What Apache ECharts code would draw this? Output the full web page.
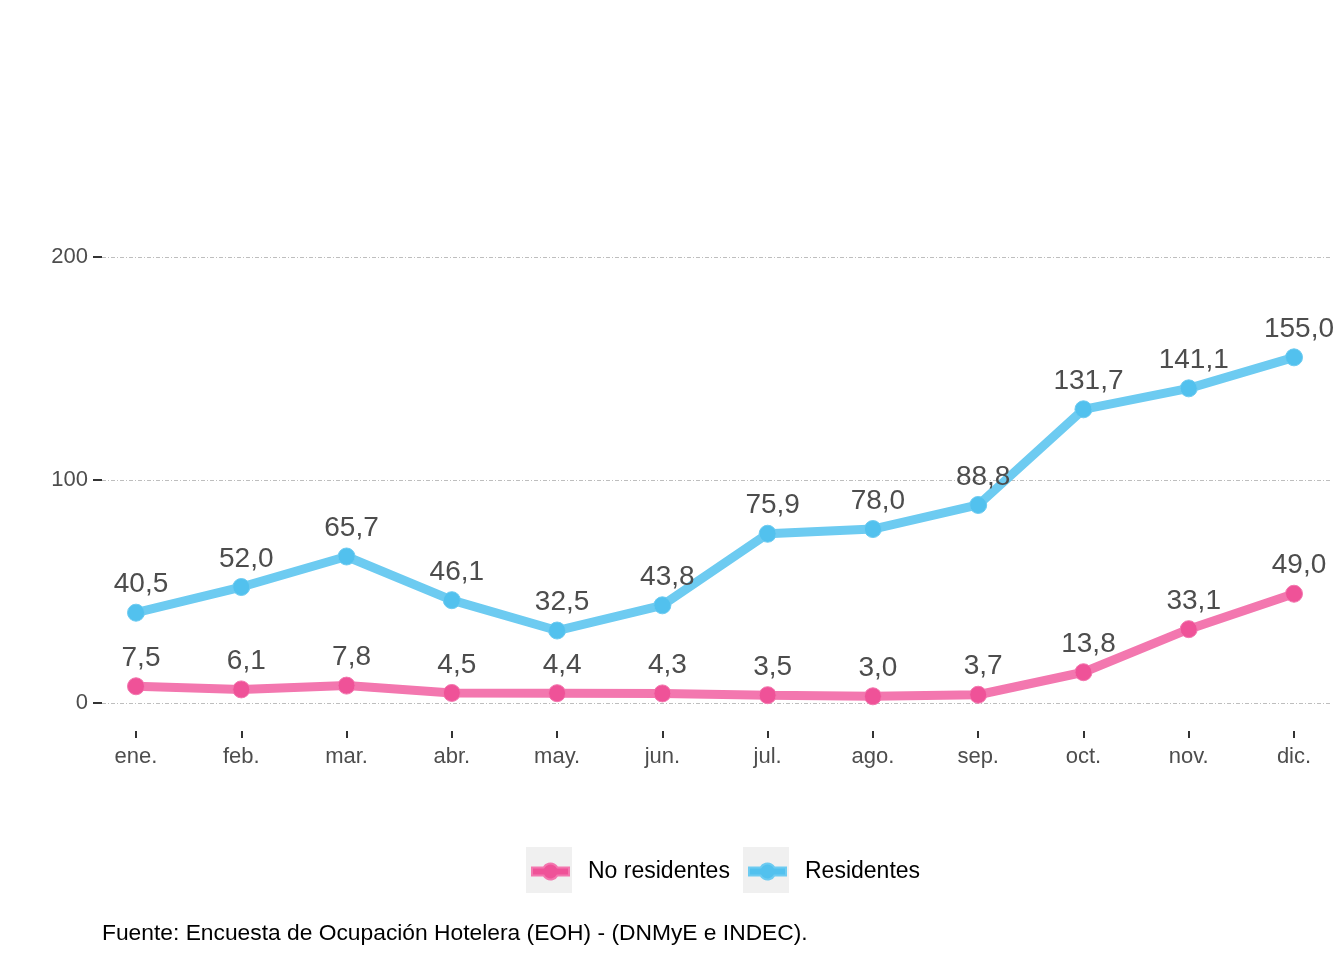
<!DOCTYPE html>
<html>
<head>
<meta charset="utf-8">
<script src="https://cdn.jsdelivr.net/npm/echarts@6/dist/echarts.min.js"></script>
<style>html,body{margin:0;padding:0;background:#fff}#c{width:1344px;height:960px}</style>
</head>
<body>
<div id="c"></div>
<script>
const months = ['ene.','feb.','mar.','abr.','may.','jun.','jul.','ago.','sep.','oct.','nov.','dic.'];
const noResidentes = [7.5, 6.1, 7.8, 4.5, 4.4, 4.3, 3.5, 3.0, 3.7, 13.8, 33.1, 49.0];
const residentes = [40.5, 52.0, 65.7, 46.1, 32.5, 43.8, 75.9, 78.0, 88.8, 131.7, 141.1, 155.0];
const yTicks = [0, 100, 200];
const seriesNames = ['No residentes', 'Residentes'];
const caption = 'Fuente: Encuesta de Ocupación Hotelera (EOH) - (DNMyE e INDEC).';

const FONT = '"Liberation Sans", Arial, sans-serif';
const fmt = v => v.toFixed(1).replace('.', ',');
const iconPath = 'path://M0,4 L11.57,4 A8,8 0 0,1 25.43,4 L37,4 L37,12 L25.43,12 A8,8 0 0,1 11.57,12 L0,12 Z';
const legendColors = ['#ef5298', '#52c1ee'];

const chart = echarts.init(document.getElementById('c'), null, {renderer: 'canvas'});
const labelCfg = {
  show: true, position: 'top', distance: 5, offset: [5, 0],
  fontFamily: FONT, fontSize: 28, color: '#4d4d4d',
  formatter: p => fmt(p.value)
};
const legendBase = {
  top: 855, itemWidth: 37, itemHeight: 16, padding: 5,
  textStyle: {fontFamily: FONT, fontSize: 23, color: '#000000', padding: [0, 0, 0, 14]}
};
chart.setOption({
  backgroundColor: '#ffffff',
  animation: false,
  textStyle: {fontFamily: FONT},
  grid: [
    {left: 102, right: 14, top: 257, bottom: 257},
    {left: 136, right: 50, top: 257, bottom: 229}
  ],
  xAxis: [
    {gridIndex: 0, type: 'value', show: false, min: 0, max: 1},
    {gridIndex: 1, type: 'category', data: months, boundaryGap: false,
     axisLine: {show: false, onZero: false},
     axisTick: {show: true, length: 7, lineStyle: {color: '#333333', width: 2}},
     axisLabel: {fontFamily: FONT, fontSize: 22, color: '#4d4d4d', margin: 15},
     splitLine: {show: false}}
  ],
  yAxis: [
    {gridIndex: 0, type: 'value', min: yTicks[0], max: yTicks[yTicks.length - 1], interval: 100,
     axisLine: {show: false},
     axisTick: {show: true, length: 9, lineStyle: {color: '#333333', width: 2}},
     axisLabel: {fontFamily: FONT, fontSize: 22, color: '#4d4d4d', margin: 14},
     splitLine: {show: true, lineStyle: {color: '#bebebe', width: 1, type: [4, 2, 1, 2]}}},
    {gridIndex: 1, type: 'value', min: -12.556, max: 200, show: false, splitLine: {show: false}}
  ],
  legend: [
    Object.assign({}, legendBase, {left: 526,
      data: [{name: seriesNames[0], icon: iconPath, itemStyle: {color: legendColors[0]}}]}),
    Object.assign({}, legendBase, {left: 743,
      data: [{name: seriesNames[1], icon: iconPath, itemStyle: {color: legendColors[1]}}]})
  ],
  title: {
    text: caption, left: 102, top: 922, padding: 0,
    textStyle: {fontFamily: FONT, fontSize: 22.8, fontWeight: 'normal', color: '#000000'}
  },
  graphic: [
    {type: 'rect', left: 526, top: 847, shape: {width: 46, height: 46}, style: {fill: '#f0f0f0'}, z: -1},
    {type: 'rect', left: 743, top: 847, shape: {width: 46, height: 46}, style: {fill: '#f0f0f0'}, z: -1}
  ],
  series: [
    {name: seriesNames[1], type: 'line', xAxisIndex: 1, yAxisIndex: 1, data: residentes,
     symbol: 'circle', symbolSize: 17,
     lineStyle: {color: '#6dcbf1', width: 9},
     itemStyle: {color: '#52c1ee', borderColor: '#6dcbf1', borderWidth: 1},
     label: labelCfg, z: 2},
    {name: seriesNames[0], type: 'line', xAxisIndex: 1, yAxisIndex: 1, data: noResidentes,
     symbol: 'circle', symbolSize: 17,
     lineStyle: {color: '#f377af', width: 9},
     itemStyle: {color: '#ef5298', borderColor: '#f377af', borderWidth: 1},
     label: labelCfg, z: 3}
  ]
});
</script>
</body>
</html>
